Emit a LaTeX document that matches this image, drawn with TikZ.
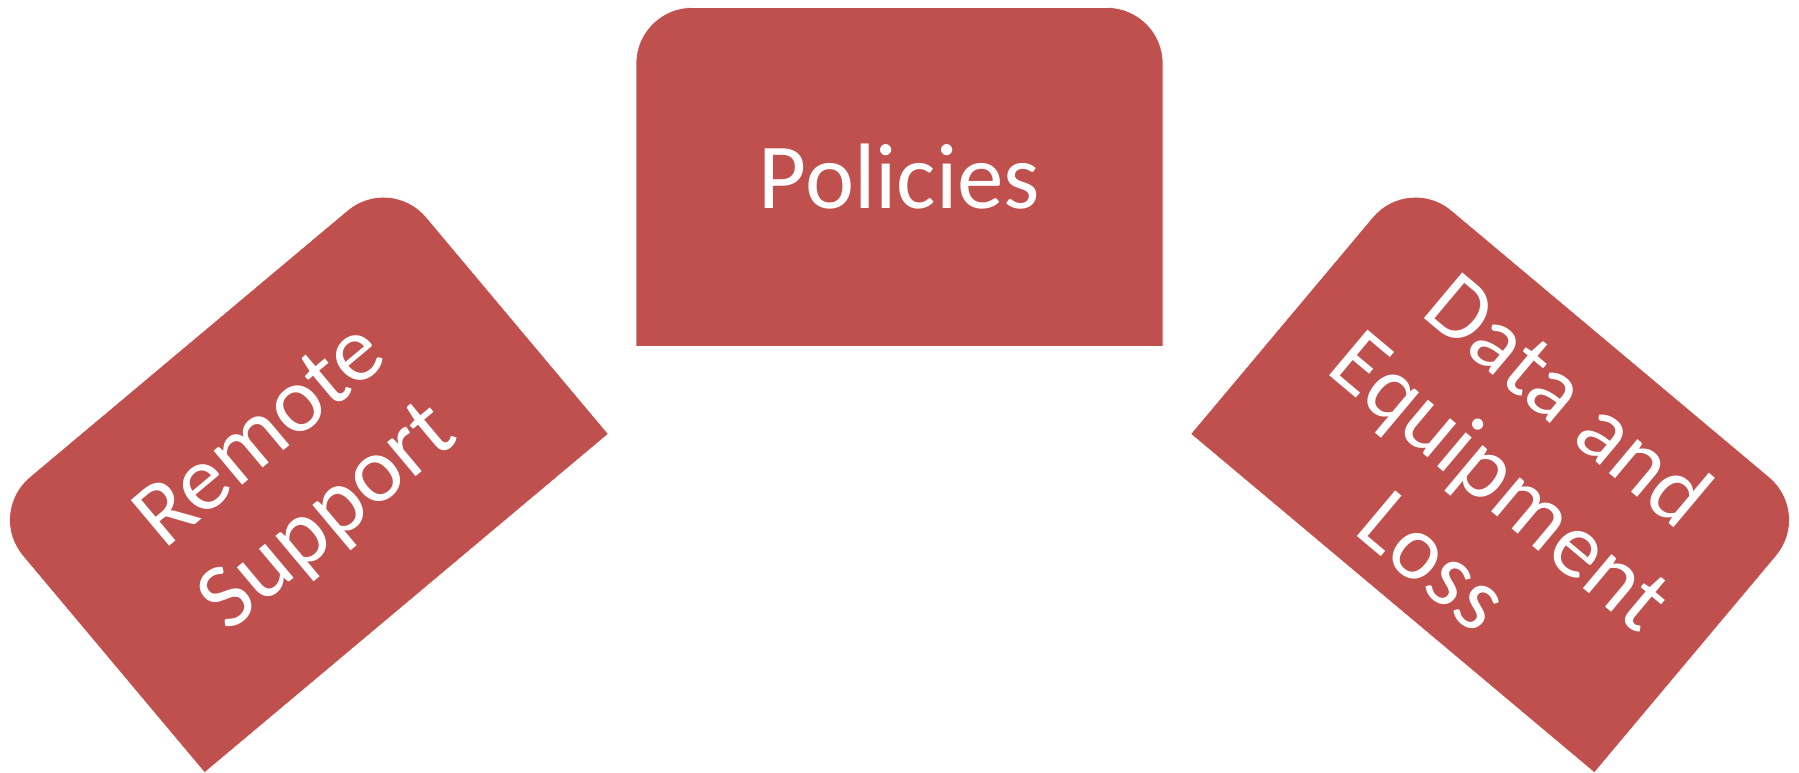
\documentclass[tikz,border=0pt]{standalone}
\usepackage{fontspec}
\setmainfont{Carlito}
\definecolor{shapered}{HTML}{C0504D}
\tikzset{
  lbl/.style={text=white, align=center, inner sep=0pt, font=\fontsize{46.5}{52.5}\selectfont},
  shapefill/.style={fill=shapered, draw=white, line width=0.3pt}
}
\newcommand{\roundtopshape}{%
  (-263.5,-169.5) -- (263.5,-169.5) -- (263.5,113.5)
  arc[start angle=0, end angle=90, radius=28pt] -- (-207.5,169.5)
  arc[start angle=90, end angle=180, radius=28pt] -- cycle}
\begin{document}
\begin{tikzpicture}[x=0.5pt, y=0.5pt]
\useasboundingbox (0,0) rectangle (1799,772);
% Policies
\begin{scope}[shift={(899.5,595)}]
  \fill[shapefill] \roundtopshape;
\end{scope}
% Remote Support
\begin{scope}[shift={(297.5,298.5)}, rotate=40]
  \fill[shapefill] \roundtopshape;
\end{scope}
% Data and Equipment Loss
\begin{scope}[shift={(1501.5,298.5)}, rotate=-40]
  \fill[shapefill] \roundtopshape;
\end{scope}
\node[lbl] (pol) at (899.5,595) {Policies};
\node[lbl, rotate=40] (rs) at (296.5,293) {Remote\\Support};
\node[lbl, rotate=-40] (de) at (1502.5,293) {Data and\\Equipment\\Loss};
\end{tikzpicture}
\end{document}
